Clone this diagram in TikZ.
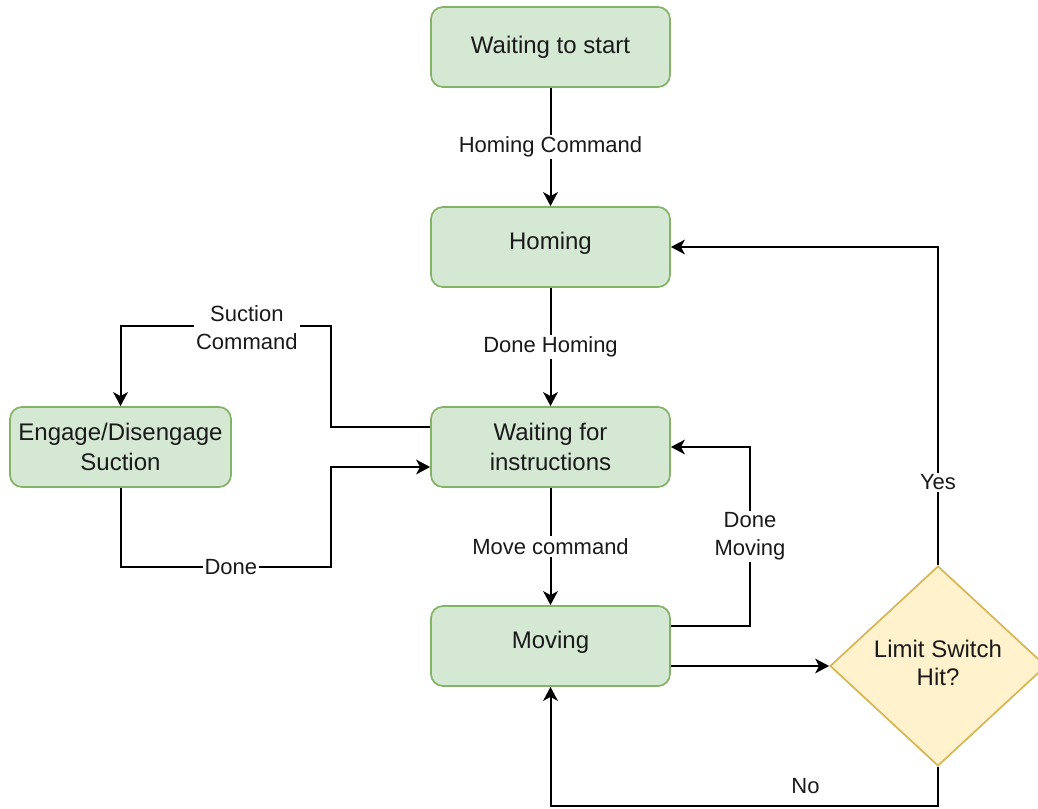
\documentclass[tikz,border=0pt]{standalone}
\usepackage{fontspec}
\setmainfont{Liberation Sans}
\usetikzlibrary{shapes.geometric,arrows.meta}
\definecolor{boxfill}{HTML}{D5E8D4}
\definecolor{boxline}{HTML}{82B366}
\definecolor{decfill}{HTML}{FFF2CC}
\definecolor{decline}{HTML}{D6B656}
\definecolor{ink}{HTML}{1A1A1A}

\begin{document}
\begin{tikzpicture}[x=0.75pt,y=-0.75pt,
  state/.style={draw=boxline,fill=boxfill,line width=1.3pt,rounded corners=9pt,
    minimum width=179.25pt,minimum height=60pt,inner sep=0pt,align=center,
    text=ink,font=\fontsize{18}{22.5}\selectfont},
  decision/.style={diamond,draw=decline,fill=decfill,line width=1.3pt,
    minimum width=162pt,minimum height=150pt,inner sep=0pt,aspect=1.08,align=center,
    text=ink,font=\fontsize{18}{21}\selectfont},
  edge/.style={draw=black,line width=1.5pt,line join=miter,
    -{Stealth[length=10.5pt,width=11pt,inset=3pt]}},
  lab/.style={fill=white,inner sep=1.5pt,align=center,text=ink,
    font=\fontsize{16.5}{21}\selectfont}]
\useasboundingbox (0,0) rectangle (1038,809);

% states
\node[state] (start) at (550.5,47) {Waiting to start};
\node[state,text height=12.9pt,text depth=9pt] (homing) at (550.5,247) {Homing};
\node[state] (wait) at (550.5,447) {Waiting for\\instructions};
\node[state,text height=12.9pt,text depth=9pt] (moving) at (550.5,646) {Moving};
\node[state,minimum width=165.75pt] (suction) at (120.5,447) {Engage/Disengage\\Suction};
\node[decision] (limit) at (938,666) {\raisebox{3pt}{\begin{tabular}{@{}c@{}}Limit Switch\\Hit?\end{tabular}}};

% main sequence
\draw[edge] (start) -- node[lab] {Homing Command} (homing);
\draw[edge] (homing) -- node[lab] {Done Homing} (wait);
\draw[edge] (wait) -- node[lab] {Move command} (moving);

% suction loop
\draw[edge] ([yshift=15pt]wait.west) -| (331,326)
  -| node[lab,pos=0.2,yshift=-1.5pt] {Suction\\Command} (suction.north);
\draw[edge] (suction.south) |- node[lab,pos=0.762] {Done} (331,567)
  |- ([yshift=-15pt]wait.west);

% moving loop
\draw[edge] ([yshift=15pt]moving.east) -| node[lab,pos=0.75] {Done\\Moving} (750,447)
  -- (wait.east);
\draw[edge] ([yshift=-15pt]moving.east) -- (limit.west);

% limit switch outcomes
\draw[edge] (limit.north) |- node[lab,pos=0.13] {Yes} (homing.east);
\draw[edge] (limit.south) -- ++(0,39)
  -| node[lab,fill=none,pos=0.171,anchor=base,yshift=9pt] {No} (moving.south);
\end{tikzpicture}
\end{document}
